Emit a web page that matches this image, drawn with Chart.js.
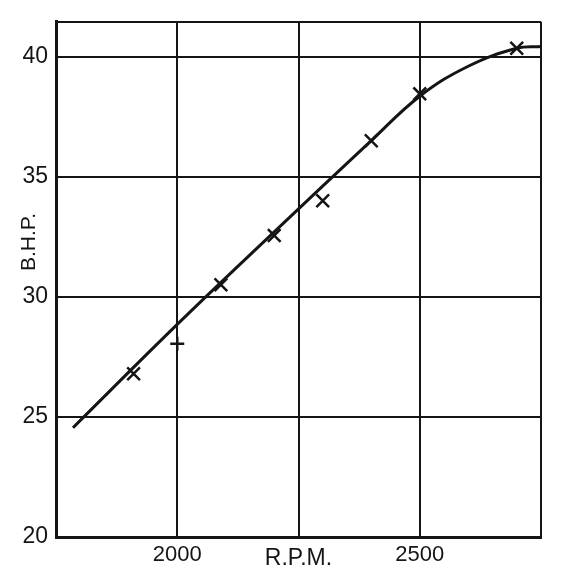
<!DOCTYPE html>
<html>
<head>
<meta charset="utf-8">
<script src="https://cdn.jsdelivr.net/npm/chart.js@4.4.1/dist/chart.umd.min.js"></script>
<style>
  html, body { margin: 0; padding: 0; background: #fff; }
  #wrap { width: 562px; height: 584px; }
</style>
</head>
<body>
<div id="wrap"><canvas id="graficoBhp"></canvas></div>
<script>
// test points (x marks)
const rpmPontos = [1910, 2000, 2090, 2200, 2300, 2400, 2500, 2700];
const bhpPontos = [26.8, 28.05, 30.5, 32.55, 34.0, 36.5, 38.45, 40.35];

// faired curve
const rpmCurva = [1785, 2000, 2200, 2400, 2500, 2600, 2700, 2750];
const bhpCurva = [24.55, 28.85, 32.7, 36.5, 38.35, 39.6, 40.35, 40.42];

// axis ranges and labels
const rpmMin = 1750;
const rpmMax = 2750;
const rpmPasso = 250;
const rpmLabels = [2000, 2500];
const bhpMin = 20;
const bhpMax = 41.45;
const bhpLabels = [20, 25, 30, 35, 40];

const tinta = '#151515';
const fonte = 'Liberation Sans, Arial, sans-serif';

// y title drawn beside the axis, a bit above centre like the original
const tituloY = {
  id: 'tituloY',
  afterDraw(chart) {
    const ctx = chart.ctx;
    ctx.save();
    ctx.translate(29, 242);
    ctx.rotate(-Math.PI / 2);
    ctx.font = '21px ' + fonte;
    ctx.fillStyle = tinta;
    ctx.textAlign = 'center';
    ctx.textBaseline = 'middle';
    ctx.fillText('B.H.P.', 0, 0);
    ctx.restore();
  }
};

const ctx = document.getElementById('graficoBhp').getContext('2d');
new Chart(ctx, {
  type: 'scatter',
  data: {
    datasets: [
      {
        label: 'curva',
        data: rpmCurva.map((x, i) => ({ x: x, y: bhpCurva[i] })),
        showLine: true,
        borderColor: tinta,
        borderWidth: 3,
        pointRadius: 0,
        tension: 0.4,
        fill: false
      },
      {
        label: 'pontos',
        data: rpmPontos.map((x, i) => ({ x: x, y: bhpPontos[i] })),
        showLine: false,
        pointStyle: ['crossRot', 'cross', 'crossRot', 'crossRot', 'crossRot', 'crossRot', 'crossRot', 'crossRot'],
        pointRadius: [9, 7, 9, 9, 9, 9, 9, 9],
        pointBorderWidth: 2.5,
        pointBorderColor: tinta,
        pointBackgroundColor: tinta
      }
    ]
  },
  options: {
    responsive: true,
    maintainAspectRatio: false,
    animation: false,
    layout: { padding: { left: 0, right: 21, top: 17, bottom: 0 } },
    plugins: {
      legend: { display: false },
      tooltip: { enabled: false }
    },
    scales: {
      x: {
        type: 'linear',
        min: rpmMin,
        max: rpmMax,
        afterFit(scale) { scale.height = 47; },
        grid: { color: tinta, lineWidth: 2, drawTicks: false },
        border: { color: tinta, width: 3 },
        ticks: {
          stepSize: rpmPasso,
          padding: 5,
          maxRotation: 0,
          color: tinta,
          font: { family: fonte, size: 22 },
          callback: (v) => rpmLabels.includes(v) ? String(v) : ''
        },
        title: {
          display: true,
          text: 'R.P.M.',
          color: tinta,
          font: { family: fonte, size: 23 },
          padding: { top: 0, bottom: 12 }
        }
      },
      y: {
        type: 'linear',
        min: bhpMin,
        max: bhpMax,
        afterFit(scale) { scale.width = 56; },
        afterBuildTicks(scale) {
          scale.ticks = bhpLabels.concat([bhpMax]).map(v => ({ value: v }));
        },
        grid: { color: tinta, lineWidth: 2, drawTicks: false },
        border: { color: tinta, width: 3 },
        ticks: {
          padding: 8,
          color: tinta,
          font: { family: fonte, size: 23 },
          callback: (v) => bhpLabels.includes(v) ? String(v) : ''
        }
      }
    }
  },
  plugins: [tituloY]
});
</script>
</body>
</html>
